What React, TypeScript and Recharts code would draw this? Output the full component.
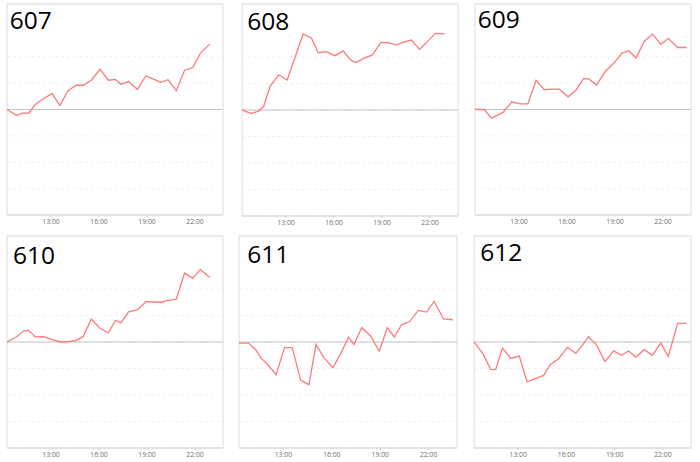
import React from 'react';
import { LineChart, Line, XAxis, YAxis, CartesianGrid, ReferenceLine, ReferenceArea } from 'recharts';

// Shared sampling times (HH:MM)
const times = [
  '10:15', '10:50', '11:17', '11:36', '12:01', '12:33', '13:04', '13:33', '14:04', '14:35',
  '15:01', '15:31', '16:04', '16:35', '17:02', '17:22', '17:51', '18:24', '18:56', '19:26',
  '19:52', '20:19', '20:50', '21:21', '21:52', '22:20', '22:55', '23:29',
];

const tickLabels = ['13:00', '16:00', '19:00', '22:00'];
const xDomainLabels = ['10:15', '23:45'];

const names = ['607', '608', '609', '610', '611', '612'];

const s607 = [0, -0.22, -0.13, -0.15, 0.19, 0.42, 0.61, 0.15, 0.71, 0.92, 0.92, 1.11, 1.52, 1.11, 1.14, 0.96, 1.06, 0.76, 1.28, 1.14, 1.03, 1.13, 0.71, 1.49, 1.59, 2.13, 2.48];
const s608 = [0, -0.13, -0.04, 0.13, 0.91, 1.33, 1.13, 1.95, 2.87, 2.72, 2.16, 2.2, 2.05, 2.23, 1.89, 1.79, 1.95, 2.08, 2.55, 2.54, 2.45, 2.55, 2.64, 2.29, 2.6, 2.89, 2.87];
const s609 = [0, 0, -0.33, -0.23, -0.1, 0.29, 0.21, 0.21, 1.11, 0.75, 0.77, 0.77, 0.48, 0.75, 1.17, 1.16, 0.93, 1.45, 1.76, 2.14, 2.23, 1.95, 2.59, 2.86, 2.47, 2.69, 2.35, 2.35];
const s610 = [0, 0.19, 0.42, 0.44, 0.19, 0.2, 0.09, 0.01, 0.01, 0.06, 0.21, 0.86, 0.52, 0.35, 0.82, 0.72, 1.14, 1.21, 1.52, 1.51, 1.5, 1.57, 1.62, 2.6, 2.4, 2.74, 2.43];
const s611 = [-0.04, -0.04, -0.29, -0.6, -0.84, -1.23, -0.21, -0.21, -1.45, -1.61, -0.1, -0.6, -0.97, -0.4, 0.19, -0.1, 0.54, 0.23, -0.35, 0.54, 0.19, 0.65, 0.78, 1.19, 1.13, 1.53, 0.87, 0.84];
const s612 = [0, -0.47, -1.03, -1.04, -0.23, -0.62, -0.53, -1.5, -1.38, -1.26, -0.84, -0.63, -0.2, -0.43, -0.09, 0.2, -0.09, -0.74, -0.33, -0.5, -0.34, -0.57, -0.29, -0.5, -0.04, -0.55, 0.7, 0.7];

const seriesList = [s607, s608, s609, s610, s611, s612];

const yTicks = [-4, -3, -2, -1, 0, 1, 2, 3, 4];

const toMin = (s: string) => {
  const [h, m] = s.split(':').map(Number);
  return h * 60 + m;
};

// layout (plot-area boxes and title placement)
const layout = [
  { left: 7, top: 4, w: 216, h: 211, tx: 9.8, ty: 29.3 },
  { left: 242, top: 4, w: 216, h: 212, tx: 247.3, ty: 30 },
  { left: 475, top: 4, w: 216, h: 211, tx: 477.7, ty: 27.5 },
  { left: 7, top: 236, w: 216, h: 212, tx: 13, ty: 264.3 },
  { left: 239, top: 236, w: 218, h: 212, tx: 247.3, ty: 262.7 },
  { left: 474, top: 236, w: 217, h: 212, tx: 480.3, ty: 260.5 },
];

const LINE_COLOR = '#ff7a7a';
const M = { top: 2, right: 3, left: 3, bottom: 0 };
const X_AXIS_H = 16;

function Panel({ idx }: { idx: number }) {
  const L = layout[idx];
  const values = seriesList[idx];
  const data = values.map((v, i) => ({ t: toMin(times[i]), v }));
  const d0 = toMin(xDomainLabels[0]);
  const d1 = toMin(xDomainLabels[1]);
  return (
    <div style={{ position: 'absolute', left: L.left - M.left, top: L.top - M.top }}>
      <LineChart width={L.w + M.left + M.right} height={L.h + M.top + M.bottom + X_AXIS_H} data={data} margin={M}>
        <CartesianGrid vertical={false} stroke="#f0f0f0" strokeDasharray="3 3" />
        <XAxis
          type="number"
          dataKey="t"
          domain={[d0, d1]}
          ticks={tickLabels.map(toMin)}
          tickFormatter={(m: number) => `${Math.floor(m / 60)}:${String(m % 60).padStart(2, '0')}`}
          height={X_AXIS_H}
          axisLine={{ stroke: '#dcdcdc' }}
          tickLine={{ stroke: '#d0d0d0' }}
          tickSize={2}
          tick={{ fontSize: 6.8, fill: '#707070', fontFamily: 'Open Sans' }}
          allowDataOverflow
        />
        <YAxis hide domain={[-4, 4]} ticks={yTicks} type="number" allowDataOverflow />
        <ReferenceArea x1={d0} x2={d1} y1={-4} y2={4} fill="none" stroke="#dcdcdc" strokeWidth={1} ifOverflow="visible" />
        <ReferenceLine y={0} stroke="#c4c4c4" strokeWidth={1.2} />
        <Line
          type="linear"
          dataKey="v"
          stroke={LINE_COLOR}
          strokeWidth={1.3}
          dot={false}
          activeDot={false}
          isAnimationActive={false}
        />
      </LineChart>
    </div>
  );
}

export default function App() {
  return (
    <div style={{ position: 'absolute', left: 0, top: 0, width: 700, height: 462, background: '#fff' }}>
      {names.map((_, i) => (
        <Panel key={i} idx={i} />
      ))}
      <svg width={700} height={462} style={{ position: 'absolute', left: 0, top: 0, pointerEvents: 'none' }}>
        {names.map((n, i) => (
          <text key={n} x={layout[i].tx} y={layout[i].ty} fontFamily="Open Sans" fontSize={24.5} fill="#000">
            {n}
          </text>
        ))}
      </svg>
    </div>
  );
}
